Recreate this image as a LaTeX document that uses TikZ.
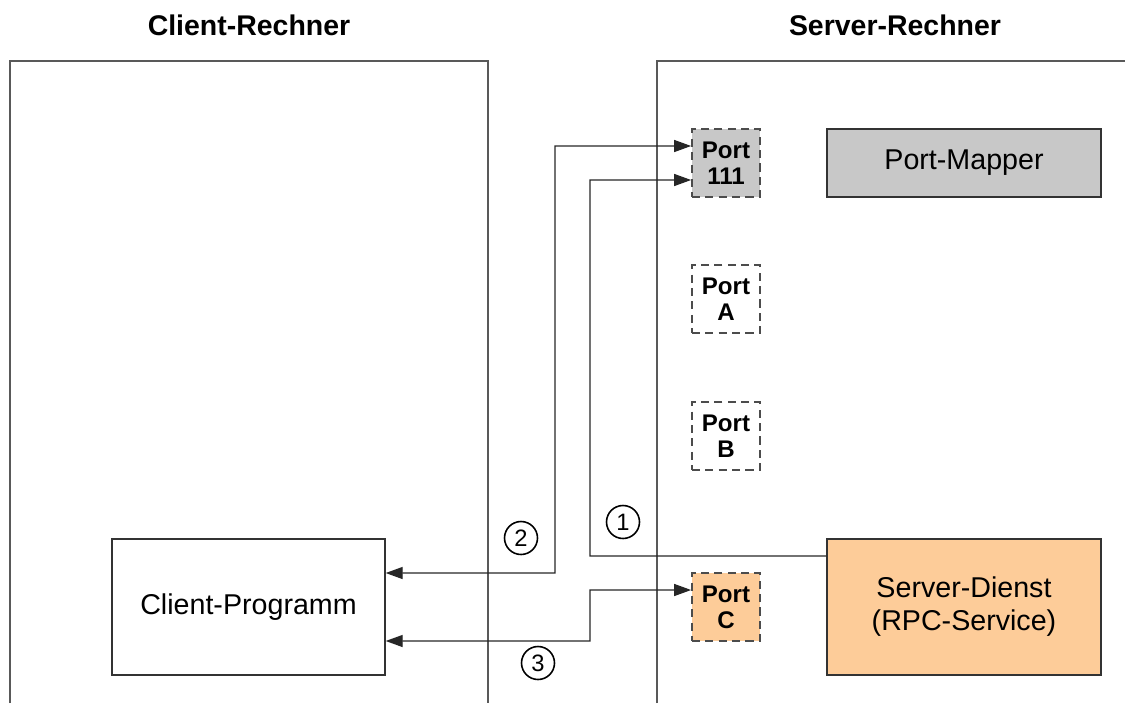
\documentclass[tikz,border=0pt]{standalone}
\usepackage{fontspec}
\setmainfont{Liberation Sans}
\usetikzlibrary{positioning, arrows.meta}
\definecolor{grau}{RGB}{200,200,200}
\definecolor{pfirsich}{RGB}{253,204,153}
\tikzset{
    kasten/.style  = {draw=black!80, line width=0.8pt, align=center, inner sep=2pt,
                      font=\fontsize{16.3}{18.8}\selectfont},
    dienst/.style  = {kasten, minimum width=5.48cm, minimum height=1.36cm},
    portbox/.style = {draw=black!70, dashed, dash pattern=on 4.6pt off 3pt, line width=1pt,
                      align=center, inner sep=0pt, minimum size=1.36cm,
                      font=\fontsize{13.7}{14.8}\selectfont\bfseries},
    rahmen/.style  = {draw=black!65, line width=0.9pt},
    titel/.style   = {font=\fontsize{16.2}{19}\selectfont\bfseries},
    link/.style    = {-{Triangle[length=3.4mm, width=2.4mm]}, line width=0.75pt, black!85},
    dlink/.style   = {link, {Triangle[length=3.4mm, width=2.4mm]}-{Triangle[length=3.4mm, width=2.4mm]}},
    nummer/.style  = {draw, circle, line width=0.9pt, minimum size=0.66cm, inner sep=0pt,
                      font=\fontsize{13.5}{13.5}\selectfont}
}

\begin{document}
\begin{tikzpicture}[x=0.02cm, y=-0.02cm]
    \useasboundingbox (0,0) rectangle (1125,703);

    % --- Rechner ---
    \node[titel] (tclient) at (249,25) {Client-Rechner};
    \node[titel] (tserver) at (895,25) {Server-Rechner};
    \draw[rahmen] (10,703) -- (10,61) -- (488,61) -- (488,703);
    \draw[rahmen] (657,703) -- (657,61) -- (1130,61);

    % --- Server ---
    \node[portbox, fill=grau]     (p111) at (726,163) {Port\\111};
    \node[dienst, fill=grau]      (pmap) at (964,163) {Port-Mapper};
    \node[portbox]                (pa)   at (726,299) {Port\\A};
    \node[portbox]                (pb)   at (726,436) {Port\\B};
    \node[portbox, fill=pfirsich] (pc)   at (726,607) {Port\\C};
    \node[dienst, fill=pfirsich, minimum height=2.72cm] (sdienst) at (964,607)
        {Server-Dienst\\(RPC-Service)};

    % --- Client ---
    \node[kasten, minimum width=5.46cm, minimum height=2.72cm] (cprog) at (248.5,607)
        {Client-Programm};

    % --- Ablauf ---
    \draw[link]  ([yshift=1.02cm]sdienst.west) -| (590,180) -- ([yshift=-0.34cm]p111.west);
    \draw[dlink] ([yshift=0.68cm]cprog.east) -| (555,146) -- ([yshift=0.34cm]p111.west);
    \draw[dlink] ([yshift=-0.68cm]cprog.east) -| (590,590) -- ([yshift=0.34cm]pc.west);

    \node[nummer] (n1) at (623,522) {1};
    \node[nummer] (n2) at (521,538) {2};
    \node[nummer] (n3) at (538,663) {3};
\end{tikzpicture}
\end{document}
